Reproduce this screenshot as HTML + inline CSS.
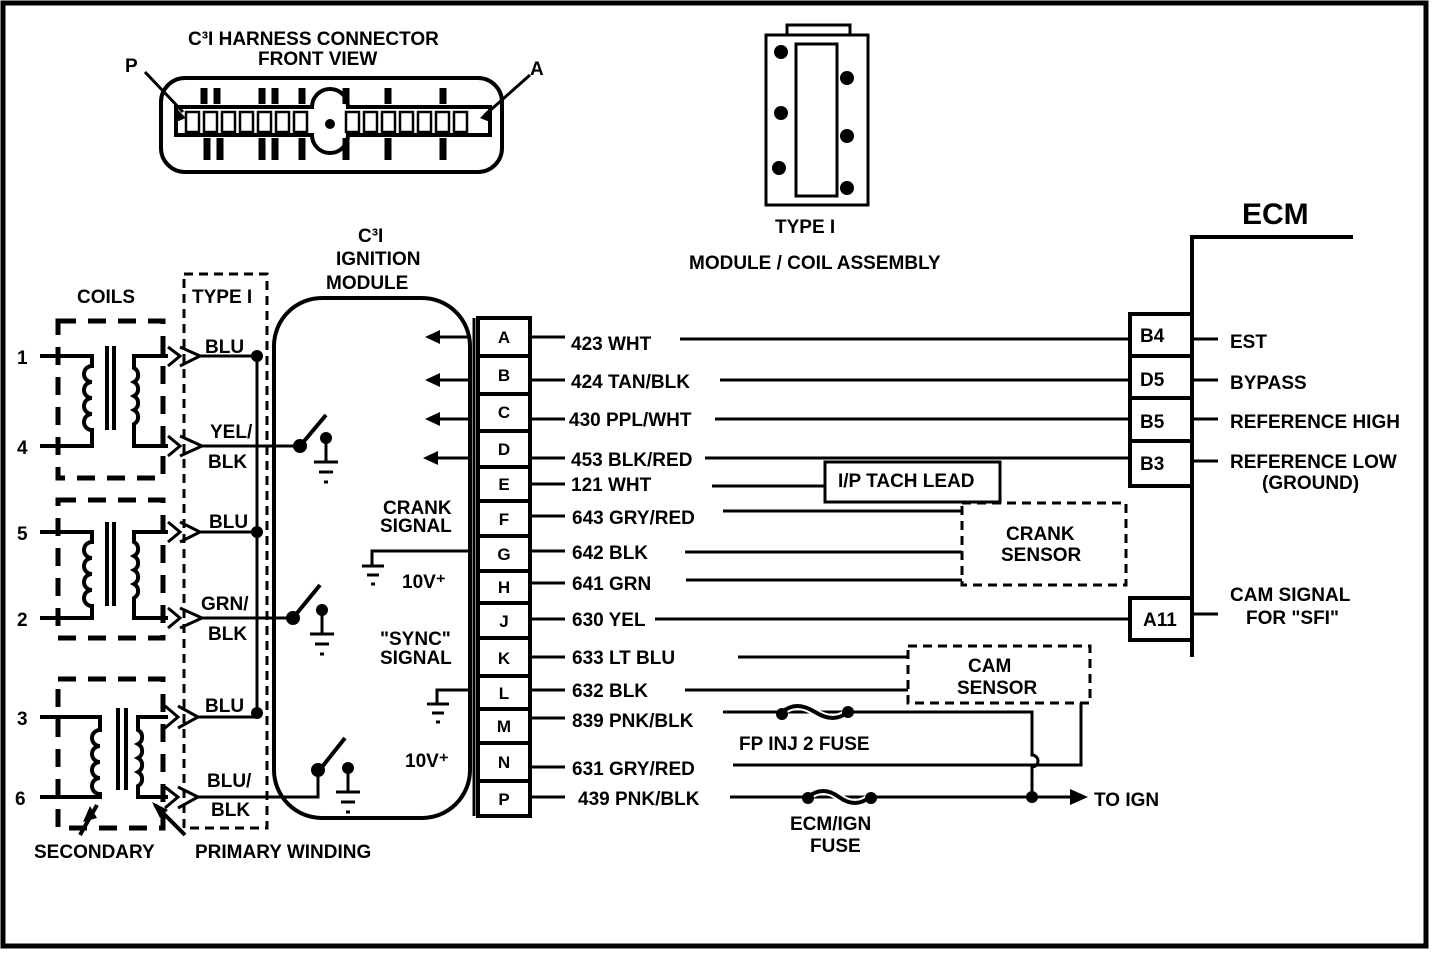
<!DOCTYPE html>
<html><head><meta charset="utf-8"><style>
html,body{margin:0;padding:0;background:#fff;}
svg{display:block;}
text{font-family:"Liberation Sans",sans-serif;font-weight:bold;fill:#000;}
</style></head><body>
<svg width="1456" height="954" viewBox="0 0 1456 954" xmlns="http://www.w3.org/2000/svg">
<rect x="0" y="0" width="1456" height="954" fill="#fff"/>
<rect x="3" y="3" width="1423" height="943" fill="none" stroke="#000" stroke-width="5"/>
<g stroke="#000" fill="none" stroke-width="3">
<rect x="161" y="78" width="341" height="94" rx="24" stroke-width="4"/>
<path d="M176 107 H312 A18 18 0 0 1 348 107 H490 V135 H348 A18 18 0 0 1 312 135 H176 Z" stroke-width="4"/>
<g stroke-width="2.5">
<rect x="186" y="112" width="13" height="20"/><rect x="204" y="112" width="13" height="20"/><rect x="222" y="112" width="13" height="20"/><rect x="240" y="112" width="13" height="20"/><rect x="258" y="112" width="13" height="20"/><rect x="276" y="112" width="13" height="20"/><rect x="294" y="112" width="13" height="20"/>
<rect x="346" y="112" width="13" height="20"/><rect x="364" y="112" width="13" height="20"/><rect x="382" y="112" width="13" height="20"/><rect x="400" y="112" width="13" height="20"/><rect x="418" y="112" width="13" height="20"/><rect x="436" y="112" width="13" height="20"/><rect x="454" y="112" width="13" height="20"/>
</g>
<g stroke-width="7">
<path d="M204 88V104M217 88V104M262 88V104M275 88V104M302 88V104M346 88V104M388 88V104M443 88V104"/>
<path d="M207 138V160M220 138V160M262 138V160M275 138V160M302 138V160M346 138V160M388 138V160M443 138V160"/>
</g>
<path d="M145 72 L183 112M530 75 L485 115"/>
<rect x="766" y="35" width="102" height="170"/>
<path d="M787 35 V25 H850 V35"/>
<rect x="796" y="44" width="41" height="152"/>
<rect x="274" y="298" width="196" height="520" rx="48" stroke-width="4"/>
<rect x="184" y="274" width="83" height="554" stroke-dasharray="9,6"/>
<g stroke-width="5" stroke-dasharray="18,12">
<rect x="58" y="321" width="105" height="157"/>
<rect x="58" y="500" width="105" height="138"/>
<rect x="58" y="679" width="105" height="149"/>
</g>
<g stroke-width="4">
<path d="M40 356H92V366a8 8 0 0 0 0 16a8 8 0 0 0 0 16a8 8 0 0 0 0 16a8 8 0 0 0 0 16V446H40"/>
<path d="M107 346V430M114 346V430"/>
<path d="M168 356H134V368a8 8 0 0 1 0 14a8 8 0 0 1 0 14a8 8 0 0 1 0 14a8 8 0 0 1 0 14V446H168"/>
<path d="M40 532H92V542a8 8 0 0 0 0 16a8 8 0 0 0 0 16a8 8 0 0 0 0 16a8 8 0 0 0 0 16V618H40"/>
<path d="M107 522V606M114 522V606"/>
<path d="M168 532H134V542a8 8 0 0 1 0 14a8 8 0 0 1 0 14a8 8 0 0 1 0 14a8 8 0 0 1 0 14V618H168"/>
<path d="M40 717H100V730a8 8 0 0 0 0 16a8 8 0 0 0 0 16a8 8 0 0 0 0 16a8 8 0 0 0 0 16V797H40"/>
<path d="M118 708V790M126 708V790"/>
<path d="M168 717H138V730a8 8 0 0 1 0 14a8 8 0 0 1 0 14a8 8 0 0 1 0 14a8 8 0 0 1 0 14V797H168"/>
</g>
<g stroke-width="3">
<path d="M168 347L180 356L168 366M180 347L200 356L180 366"/>
<path d="M168 436L180 446L168 456M180 436L202 446L180 456"/>
<path d="M168 522L180 532L168 542M180 522L200 532L180 542"/>
<path d="M168 608L180 618L168 628M180 608L202 618L180 628"/>
<path d="M165 706L178 717L165 728M178 706L198 717L178 728"/>
<path d="M165 787L178 797L165 808M178 787L198 797L178 808"/>
</g>
<path d="M200 356H257M200 532H257M198 717H257M257 356V717" stroke-width="3"/>
<path d="M202 446H300M202 618H293M198 797H318V775" stroke-width="3"/>
<path d="M300 446L326 415M293 618L320 585M318 772L345 738" stroke-width="4"/>
<path d="M80 835L97 805M185 835L155 805" stroke-width="4"/>
<g stroke-width="3">
<path d="M326 440V462M314 462H338M319 472H333M324 482H328"/>
<path d="M322 612V634M310 634H334M315 644H329M320 654H324"/>
<path d="M348 770V792M336 792H360M341 802H355M346 812H350"/>
<path d="M470 551H372V566M362 566H384M367 575H379M371 584H375"/>
<path d="M470 690H437V704M427 704H449M432 713H444M436 722H440"/>
</g>
<path d="M470 337H432M470 380H432M470 419H432M470 458H432" stroke-width="3"/>
<path d="M474 318V816" stroke-width="3"/>
<rect x="478" y="318" width="52" height="498" stroke-width="4"/>
<path d="M478 356H530M478 394H530M478 431H530M478 467H530M478 501H530M478 536H530M478 571H530M478 603H530M478 638H530M478 676H530M478 709H530M478 743H530M478 781H530" stroke-width="4"/>
<g stroke-width="3">
<path d="M530 337H565M680 339H1130"/>
<path d="M530 380H565M720 380H1130"/>
<path d="M530 419H565M715 419H1130"/>
<path d="M530 458H565M705 458H1130"/>
<path d="M530 484H565M712 486H825"/>
<path d="M530 516H565M723 511H962"/>
<path d="M530 551H565M685 552H962"/>
<path d="M530 583H565M686 580H962"/>
<path d="M530 619H565M655 619H1130"/>
<path d="M530 657H565M738 657H908"/>
<path d="M530 690H565M685 690H908"/>
<path d="M530 718H565M723 712H1032V755a6 6 0 0 1 0 12V797"/>
<path d="M530 767H565M733 765H1081V703"/>
<path d="M530 797H565M730 797H1075"/>
</g>
<rect x="825" y="462" width="175" height="40" stroke-width="3"/>
<rect x="962" y="503" width="164" height="82" stroke-dasharray="9,6"/>
<rect x="908" y="646" width="182" height="57" stroke-dasharray="9,6"/>
<path d="M782 712c10-8 20-8 33 0s23 8 33 0" stroke="#fff" stroke-width="8"/>
<path d="M782 712c10-8 20-8 33 0s23 8 33 0" stroke-width="4"/>
<path d="M808 797c10-8 20-8 31 0s21 8 31 0" stroke="#fff" stroke-width="8"/>
<path d="M808 797c10-8 20-8 31 0s21 8 31 0" stroke-width="4"/>
<path d="M1192 237V657M1190 237H1353" stroke-width="4"/>
<rect x="1130" y="314" width="62" height="172" stroke-width="4"/>
<path d="M1130 356H1192M1130 398H1192M1130 441H1192" stroke-width="4"/>
<rect x="1130" y="598" width="62" height="42" stroke-width="4"/>
<path d="M1192 339H1218M1192 380H1218M1192 419H1218M1192 461H1218M1192 614H1218" stroke-width="3"/>
</g>
<g fill="#000">
<circle cx="257" cy="356" r="6"/><circle cx="257" cy="532" r="6"/><circle cx="257" cy="713" r="6"/>
<circle cx="300" cy="446" r="7"/><circle cx="293" cy="618" r="7"/><circle cx="318" cy="770" r="7"/>
<circle cx="326" cy="438" r="6"/><circle cx="322" cy="610" r="6"/><circle cx="348" cy="768" r="6"/>
<circle cx="330" cy="124" r="5"/>
<circle cx="781" cy="52" r="7"/><circle cx="781" cy="113" r="7"/><circle cx="779" cy="168" r="7"/>
<circle cx="847" cy="78" r="7"/><circle cx="847" cy="136" r="7"/><circle cx="847" cy="188" r="7"/>
<circle cx="782" cy="714" r="6"/><circle cx="848" cy="712" r="6"/>
<circle cx="808" cy="798" r="6"/><circle cx="871" cy="798" r="6"/>
<circle cx="1032" cy="797" r="6"/>
<path d="M1070 789L1088 797L1070 805Z"/>
<path d="M425 337L440 330V344Z"/><path d="M425 380L440 373V387Z"/><path d="M425 419L440 412V426Z"/><path d="M423 458L438 451V465Z"/>
<path d="M90 806L83 822L97 818Z"/><path d="M152 802L168 810L160 818Z"/>
<path d="M176 108L186 118L176 122Z"/><path d="M490 108L480 118L490 122Z"/>
</g>
<g font-size="19">
<text x="188" y="45">C³I HARNESS CONNECTOR</text>
<text x="258" y="65">FRONT  VIEW</text>
<text x="125" y="72">P</text><text x="530" y="75">A</text>
<text x="775" y="233">TYPE  I</text>
<text x="689" y="269">MODULE / COIL ASSEMBLY</text>
<text x="358" y="242">C³I</text>
<text x="336" y="265">IGNITION</text>
<text x="326" y="289">MODULE</text>
<text x="77" y="303">COILS</text>
<text x="192" y="303">TYPE  I</text>
<text x="17" y="364">1</text><text x="17" y="454">4</text><text x="17" y="540">5</text><text x="17" y="626">2</text><text x="17" y="725">3</text><text x="15" y="805">6</text>
<text x="205" y="353">BLU</text>
<text x="210" y="438">YEL/</text><text x="208" y="468">BLK</text>
<text x="209" y="528">BLU</text>
<text x="201" y="610">GRN/</text><text x="208" y="640">BLK</text>
<text x="205" y="712">BLU</text>
<text x="207" y="787">BLU/</text><text x="211" y="816">BLK</text>
<text x="34" y="858">SECONDARY</text>
<text x="195" y="858">PRIMARY WINDING</text>
<text x="383" y="514">CRANK</text><text x="380" y="532">SIGNAL</text>
<text x="402" y="588">10V⁺</text>
<text x="380" y="645">"SYNC"</text><text x="380" y="664">SIGNAL</text>
<text x="405" y="767">10V⁺</text>
<text x="571" y="350">423 WHT</text>
<text x="571" y="388">424 TAN/BLK</text>
<text x="569" y="426">430 PPL/WHT</text>
<text x="571" y="466">453 BLK/RED</text>
<text x="571" y="491">121 WHT</text>
<text x="572" y="524">643 GRY/RED</text>
<text x="572" y="559">642 BLK</text>
<text x="572" y="590">641 GRN</text>
<text x="572" y="626">630 YEL</text>
<text x="572" y="664">633 LT BLU</text>
<text x="572" y="697">632 BLK</text>
<text x="572" y="727">839 PNK/BLK</text>
<text x="572" y="775">631 GRY/RED</text>
<text x="578" y="805">439 PNK/BLK</text>
<text x="838" y="487">I/P TACH LEAD</text>
<text x="1006" y="540">CRANK</text><text x="1001" y="561">SENSOR</text>
<text x="968" y="672">CAM</text><text x="957" y="694">SENSOR</text>
<text x="739" y="750">FP INJ 2 FUSE</text>
<text x="790" y="830">ECM/IGN</text><text x="810" y="852">FUSE</text>
<text x="1094" y="806">TO IGN</text>
<text x="1230" y="348">EST</text>
<text x="1230" y="389">BYPASS</text>
<text x="1230" y="428">REFERENCE HIGH</text>
<text x="1230" y="468">REFERENCE LOW</text>
<text x="1262" y="489">(GROUND)</text>
<text x="1230" y="601">CAM SIGNAL</text>
<text x="1246" y="624">FOR "SFI"</text>
<text x="1140" y="342">B4</text><text x="1140" y="386">D5</text><text x="1140" y="428">B5</text><text x="1140" y="470">B3</text>
<text x="1143" y="626">A11</text>
</g>
<g font-size="17" text-anchor="middle">
<text x="504" y="343">A</text><text x="504" y="381">B</text><text x="504" y="418">C</text><text x="504" y="455">D</text><text x="504" y="490">E</text><text x="504" y="525">F</text><text x="504" y="560">G</text><text x="504" y="593">H</text><text x="504" y="627">J</text><text x="504" y="664">K</text><text x="504" y="699">L</text><text x="504" y="732">M</text><text x="504" y="768">N</text><text x="504" y="805">P</text>
</g>
<text x="1242" y="224" font-size="30">ECM</text>
</svg>
</body></html>
